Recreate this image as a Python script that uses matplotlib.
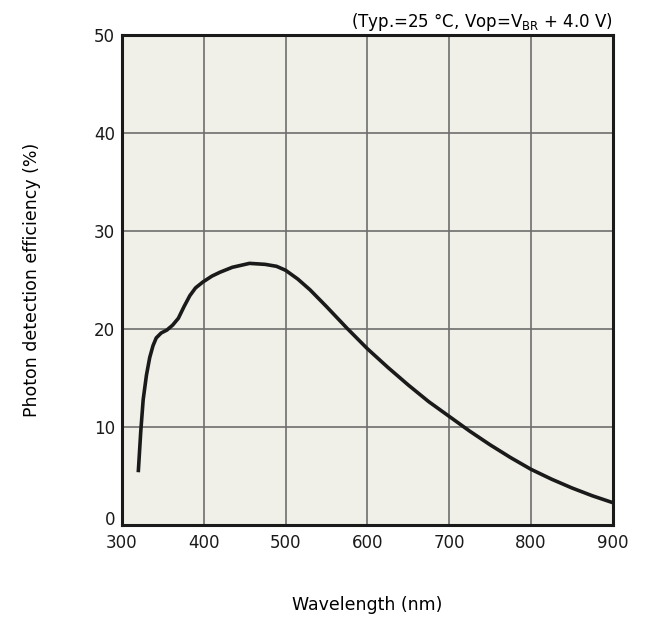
import matplotlib
matplotlib.use("Agg")
import matplotlib.pyplot as plt
import matplotlib.transforms as mtransforms

# values
wavelength = [320, 323, 326, 330, 334, 338, 342, 348, 355, 362, 369, 376, 383, 390,
              399, 410, 420, 435, 456, 475, 489, 500, 515, 530, 550, 575, 600, 625,
              650, 675, 700, 725, 750, 775, 800, 825, 850, 875, 900]
pde = [5.4, 9.5, 12.8, 15.3, 17.1, 18.3, 19.1, 19.6, 19.9, 20.4, 21.1, 22.3, 23.4, 24.2,
       24.8, 25.4, 25.8, 26.3, 26.7, 26.6, 26.4, 26.0, 25.1, 24.0, 22.3, 20.1, 18.0, 16.1,
       14.3, 12.6, 11.1, 9.6, 8.2, 6.9, 5.7, 4.7, 3.8, 3.0, 2.3]

xticks = [300, 400, 500, 600, 700, 800, 900]
yticks = [0, 10, 20, 30, 40, 50]

plt.rcParams['font.family'] = ['DejaVu Sans']

fig = plt.figure(figsize=(6.45, 6.23), dpi=100)
ax = fig.add_axes([0.189, 0.157, 0.761, 0.787])
ax.set_facecolor('#f0f0e8')

ax.plot(wavelength, pde, color='#1a1a1a', lw=2.6, solid_capstyle='butt',
        solid_joinstyle='round', zorder=3)

ax.set_xlim(300, 900)
ax.set_ylim(0, 50)
ax.set_xticks(xticks)
ax.set_yticks(yticks)
ax.grid(True, color='#6e6e6e', lw=1.2)
ax.set_axisbelow(True)
for s in ax.spines.values():
    s.set_linewidth(2.2)
    s.set_color('#1a1a1a')
ax.tick_params(length=0, labelsize=12, colors='#1a1a1a')
ax.tick_params(axis='x', pad=6)
ax.tick_params(axis='y', pad=5)

# lift the "0" so it clears the "300" below it
lift = mtransforms.ScaledTranslation(0, 5 / 72, fig.dpi_scale_trans)
lbl0 = ax.get_yticklabels()[0]
lbl0.set_transform(lbl0.get_transform() + lift)

ax.set_xlabel('Wavelength (nm)', fontsize=12.5, labelpad=32)
ax.set_ylabel('Photon detection efficiency (%)', fontsize=12.5, labelpad=38)
ax.set_title(r'(Typ.=25 °C, Vop=V$_{\mathregular{BR}}$ + 4.0 V)', loc='right',
             fontsize=12, pad=6)

fig.savefig('out.png', dpi=100)
